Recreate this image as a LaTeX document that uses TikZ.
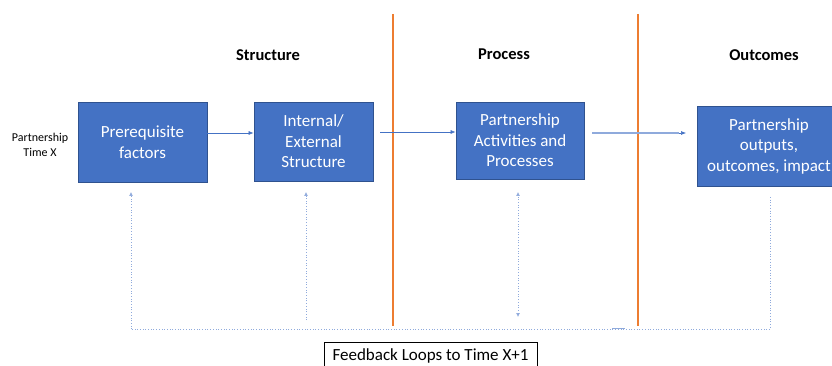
\documentclass[tikz,border=0pt]{standalone}
\usepackage{fontspec}
\setmainfont{Carlito}
\usetikzlibrary{arrows.meta}
\definecolor{boxfill}{HTML}{4472C4}
\definecolor{boxedge}{HTML}{2F528F}
\definecolor{divider}{HTML}{ED7D31}
\definecolor{flowline}{HTML}{4472C4}
\definecolor{lightflow}{HTML}{8FAADC}
\begin{document}
\begin{tikzpicture}[x=1pt,y=-1pt,
  stage/.style={draw=boxedge,line width=0.8pt,fill=boxfill,text=white,
    font=\fontsize{17}{20.5}\selectfont,align=center,inner sep=0pt},
  heading/.style={font=\fontsize{16.5}{18}\selectfont\bfseries},
  flow/.style={draw=flowline,line width=0.6pt,-{Latex[length=5pt,width=4pt]}},
  feedback/.style={draw=flowline!60,line width=0.7pt,dotted},
  fbarrow/.style={feedback,-{Latex[length=4pt,width=4pt]}},
  fbboth/.style={feedback,{Latex[length=4pt,width=4pt]}-{Latex[length=4pt,width=4pt]}},
  divline/.style={draw=divider,line width=1.5pt}]
\useasboundingbox (0,0) rectangle (832,366);
\clip (0,0) rectangle (832,366);

% stage boxes
\node[stage,minimum width=129pt,minimum height=80pt] (pre) at (142.5,142) {Prerequisite\\factors};
\node[stage,minimum width=119pt,minimum height=79pt] (str) at (313.5,141.5) {Internal/\\External\\Structure};
\node[stage,minimum width=128pt,minimum height=77pt] (proc) at (520,140.5) {Partnership\\Activities and\\Processes};
\node[stage,minimum width=144pt,minimum height=80pt] (out) at (769,146) {Partnership\\outputs,\\outcomes, impact};

% side label and column headings
\node[font=\fontsize{12}{15}\selectfont,align=center] (timex) at (40,145) {Partnership\\Time X};
\node[heading] (h1) at (268,55) {Structure};
\node[heading] (h2) at (504,54) {Process};
\node[heading] (h3) at (764,55) {Outcomes};

% column dividers
\coordinate (d1t) at (393,14); \coordinate (d1b) at (393,326);
\coordinate (d2t) at (638,14); \coordinate (d2b) at (638,326);
\draw[divline] (d1t) -- (d1b);
\draw[divline] (d2t) -- (d2b);

% forward flow
\draw[flow] (pre.east |- 0,133) -- (str.west |- 0,133);
\coordinate (a2s) at (380,132);
\draw[flow] (a2s) -- (proc.west |- a2s);
\coordinate (a3s) at (592,133);
\coordinate (a3e) at (686,133);
\draw[draw=lightflow,line width=1.4pt] (a3s) -- (679,133);
\draw[flow] (679,133) -- (a3e);

% feedback loop
\coordinate (fbR) at (770,197);
\coordinate (fbRb) at (770,329);
\coordinate (fbLb) at (131,329);
\coordinate (fbLt) at (131,192);
\draw[feedback] (fbR) -- (fbRb) -- (fbLb);
\draw[fbarrow] (fbLb) -- (fbLt);
\coordinate (fbSb) at (306,320);
\coordinate (fbSt) at (306,192);
\draw[fbarrow] (fbSb) -- (fbSt);
\coordinate (fbPt) at (518,192);
\coordinate (fbPb) at (518,317);
\draw[fbboth] (fbPb) -- (fbPt);
\draw[draw=lightflow,line width=1pt] (612,328.5) -- (625,328.5);

% feedback label
\node[draw=black,line width=0.6pt,minimum width=213pt,minimum height=30pt,anchor=north west,
  inner sep=0pt] (fblabel) at (324,342) {};
\node[font=\fontsize{17}{20}\selectfont] (fbtext) at (430.5,355.5) {Feedback Loops to Time X+1};
\end{tikzpicture}
\end{document}
